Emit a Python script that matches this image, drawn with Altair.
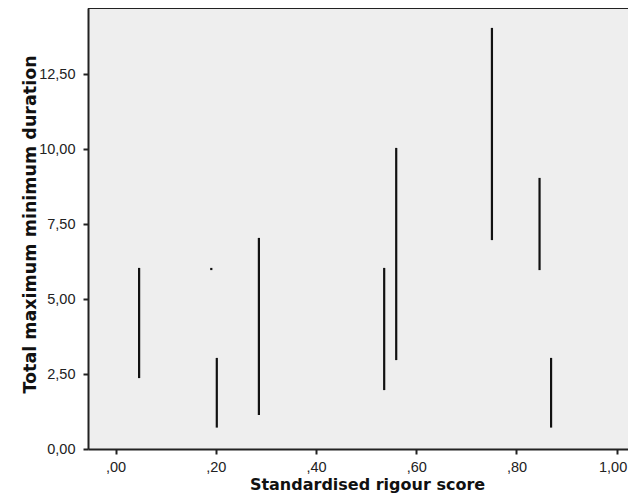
import altair as alt
import pandas as pd

# Standardised rigour score (x) and min/max of total duration (y)
rigour_score = [0.047, 0.191, 0.202, 0.286, 0.536, 0.560, 0.751, 0.846, 0.869]
duration_min = [2.40, 6.00, 0.75, 1.17, 2.00, 3.00, 7.00, 6.00, 0.75]
duration_max = [6.00, 6.00, 3.00, 7.00, 6.00, 10.00, 14.00, 9.00, 3.00]

x_ticks = [0.0, 0.2, 0.4, 0.6, 0.8, 1.0]
y_ticks = [0.0, 2.5, 5.0, 7.5, 10.0, 12.5]

df = pd.DataFrame({"score": rigour_score, "ymin": duration_min, "ymax": duration_max})

x_label = ("datum.value < 1 ? ',' + substring(format(datum.value, '.2f'), 2) "
           ": replace(format(datum.value, '.2f'), '.', ',')")
y_label = "replace(format(datum.value, '.2f'), '.', ',')"

ranges = alt.Chart(df).mark_rule(
    color="#111111", strokeWidth=2.2, strokeCap="square"
).encode(
    x=alt.X("score:Q",
            scale=alt.Scale(domain=[-0.055, 1.0225], nice=False, zero=False),
            axis=alt.Axis(values=x_ticks, labelExpr=x_label,
                          labelAlign={"condition": {"test": "datum.value >= 1", "value": "right"},
                                      "value": "center"},
                          labelOffset={"condition": {"test": "datum.value >= 1", "value": 10},
                                       "value": 0},
                          title="Standardised rigour score",
                          titleX=279, titleY=40, titleBaseline="alphabetic",
                          titleAlign="center", labelPadding=6)),
    y=alt.Y("ymin:Q",
            scale=alt.Scale(domain=[0, 14.7], nice=False),
            axis=alt.Axis(values=y_ticks, labelExpr=y_label,
                          title="Total maximum minimum duration",
                          titleX=-53, titleY=216, titleAngle=270,
                          titleBaseline="alphabetic", titleAlign="center",
                          titleFontSize=17.5, labelPadding=8)),
    y2="ymax:Q",
)

# top frame line (right side is cut off in the reference)
top_frame = alt.Chart(pd.DataFrame({"k": [0]})).mark_rule(
    color="#222222", strokeWidth=2
).encode(y=alt.value(0))

chart = alt.layer(ranges, top_frame).properties(
    width=540, height=441,
    autosize=alt.AutoSizeParams(type="none"),
    padding={"left": 80, "top": 0, "right": 0, "bottom": 44},
).configure_view(
    fill="#eeeeee", strokeWidth=0
).configure_axis(
    grid=False, domainColor="#222222", domainWidth=2,
    tickColor="#222222", tickWidth=2, tickSize=5,
    labelFont="Liberation Sans", labelFontSize=14.5, labelColor="#222222",
    titleFont="DejaVu Sans", titleFontSize=16, titleFontWeight="bold",
    titleColor="#111111",
)

chart.save("out.html", embed_options={"renderer": "svg", "actions": False})
